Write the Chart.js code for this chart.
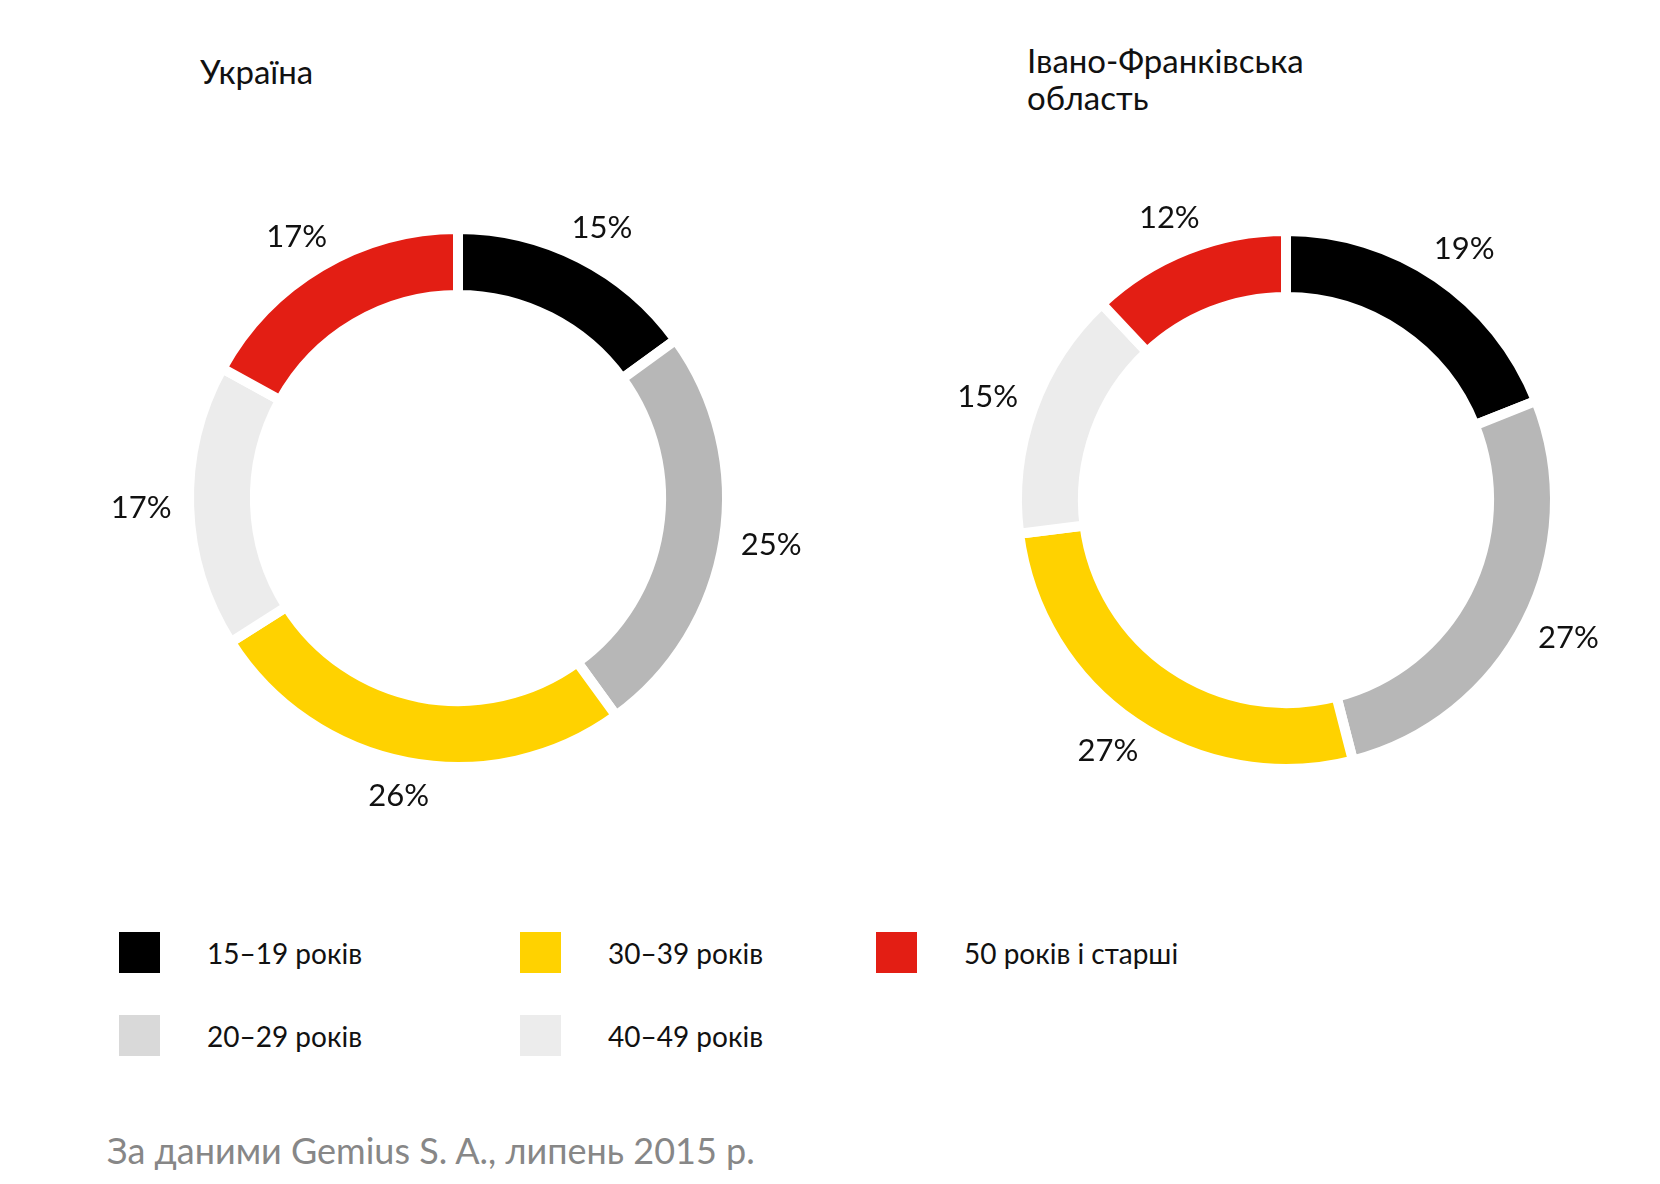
<!DOCTYPE html>
<html>
<head>
<meta charset="utf-8">
<script src="https://cdn.jsdelivr.net/npm/chart.js@4.4.0/dist/chart.umd.min.js"></script>
<style>
  html, body { margin: 0; padding: 0; background: #fff; overflow: hidden; }
  body { width: 1660px; height: 1184px; position: relative; font-family: Lato, "Open Sans", sans-serif; color: #111; }
  .title { position: absolute; font-size: 33px; line-height: 37px; }
  canvas { position: absolute; }
  .lg { position: absolute; display: flex; align-items: center; font-size: 28px; }
  .lg span.box { display: inline-block; width: 41px; height: 41px; margin-right: 47px; }
  .foot { position: absolute; left: 107px; top: 1128px; font-size: 36px; color: #878787; }
</style>
</head>
<body>
<div class="title" style="left:200px; top:53px;">Україна</div>
<div class="title" style="left:1027px; top:42px;">Івано-Франківська<br>область</div>

<canvas id="ua" width="720" height="720" style="left:98px; top:138px;"></canvas>
<canvas id="if" width="720" height="720" style="left:926px; top:140px;"></canvas>

<div id="legend"></div>
<div class="foot">За даними Gemius S. A., липень 2015 р.</div>

<script>
// age groups, in order clockwise from the top
var ageGroups = ["15–19 років", "20–29 років", "30–39 років", "40–49 років", "50 років і старші"];
var sliceColors = ["#000000", "#b7b7b7", "#ffd200", "#ececec", "#e31e14"];
var legendColors = ["#000000", "#d9d9d9", "#ffd200", "#ececec", "#e31e14"];

// share of internet users, %
var ukraineValues = [15, 25, 26, 17, 17];
var ifRegionValues = [19, 27, 27, 15, 12];

// percent labels outside the ring
var outsideLabels = {
  id: 'outsideLabels',
  afterDatasetsDraw: function(chart) {
    var ctx = chart.ctx;
    var meta = chart.getDatasetMeta(0);
    var values = chart.data.datasets[0].data;
    ctx.save();
    ctx.font = '31px Lato, "Open Sans", sans-serif';
    ctx.fillStyle = '#111';
    ctx.textAlign = 'center';
    ctx.textBaseline = 'middle';
    meta.data.forEach(function(arc, i) {
      var mid = (arc.startAngle + arc.endAngle) / 2;
      var dx = Math.cos(mid), dy = Math.sin(mid);
      var r = arc.outerRadius + 16;
      var x = arc.x + dx * r + dx * 32;
      var y = arc.y + dy * r + dy * 18;
      ctx.fillText(values[i] + '%', x, y);
    });
    ctx.restore();
  }
};

function ring(id, values) {
  return new Chart(document.getElementById(id), {
    type: 'doughnut',
    data: {
      labels: ageGroups,
      datasets: [{
        data: values,
        backgroundColor: sliceColors,
        borderColor: '#ffffff',
        borderWidth: 10,
        hoverOffset: 0
      }]
    },
    options: {
      responsive: false,
      animation: false,
      events: [],
      cutout: '75.5%',
      layout: { padding: 86 },
      plugins: {
        legend: { display: false },
        tooltip: { enabled: false }
      }
    },
    plugins: [outsideLabels]
  });
}

ring('ua', ukraineValues);
ring('if', ifRegionValues);

// legend, column by column
var legendX = [119, 119, 520, 520, 876];
var legendY = [932, 1015, 932, 1015, 932];
var legend = document.getElementById('legend');
ageGroups.forEach(function(name, i) {
  var d = document.createElement('div');
  d.className = 'lg';
  d.style.left = legendX[i] + 'px';
  d.style.top = legendY[i] + 'px';
  d.innerHTML = '<span class="box" style="background:' + legendColors[i] + '"></span>' + name;
  legend.appendChild(d);
});
</script>
</body>
</html>
